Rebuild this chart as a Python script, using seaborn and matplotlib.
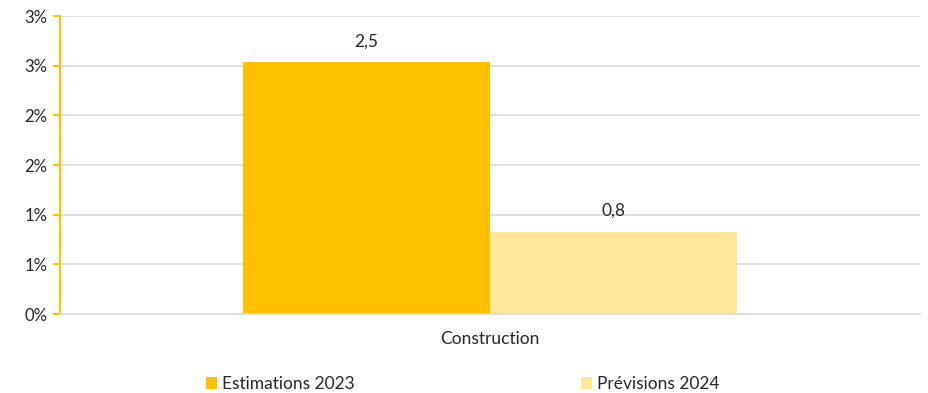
import matplotlib
matplotlib.use("Agg")
import matplotlib.pyplot as plt
from matplotlib.patches import Patch
import seaborn as sns
import pandas as pd

categories = ["Construction"]
series = ["Estimations 2023", "Prévisions 2024"]
values_2023 = [2.54]
values_2024 = [0.83]
colors = ["#FFC000", "#FFE699"]
ytick_values = [0, 0.5, 1, 1.5, 2, 2.5, 3]
ytick_labels = ["0%", "1%", "1%", "2%", "2%", "3%", "3%"]

df = pd.DataFrame({
    "categorie": categories * 2,
    "serie": [series[0]] * len(categories) + [series[1]] * len(categories),
    "valeur": values_2023 + values_2024,
})

sns.set_style("white")
plt.rcParams["font.family"] = ["Lato", "DejaVu Sans"]
text_color = "#262626"

fig, ax = plt.subplots(figsize=(9.29, 3.93), dpi=100)
fig.subplots_adjust(left=0.0646, right=0.990, top=0.959, bottom=0.201)

sns.barplot(data=df, x="categorie", y="valeur", hue="serie", palette=colors,
            width=0.575, saturation=1, linewidth=0, errorbar=None, ax=ax,
            legend=False)

for container in ax.containers:
    labels = [f"{bar.get_height():.1f}".replace(".", ",") for bar in container]
    ax.bar_label(container, labels=labels, padding=9, fontsize=12.5, color=text_color)

ax.set_xlim(-0.5, 0.5)
ax.set_ylim(0, 3)
ax.set_yticks(ytick_values)
ax.set_yticklabels(ytick_labels)
ax.set_xlabel("")
ax.set_ylabel("")
ax.yaxis.grid(True, color="#D9D9D9", linewidth=1.2)
ax.set_axisbelow(True)

for side in ["top", "right"]:
    ax.spines[side].set_visible(False)
ax.spines["bottom"].set_color("#D9D9D9")
ax.spines["bottom"].set_linewidth(1.2)
ax.spines["left"].set_color("#FFC000")
ax.spines["left"].set_linewidth(1.5)

ax.tick_params(axis="y", left=True, length=5, width=1.5, color="#FFC000",
               labelsize=12, labelcolor=text_color, pad=4)
ax.tick_params(axis="x", bottom=False, labelsize=12.5, labelcolor=text_color, pad=9)

handles = [Patch(facecolor=c, edgecolor="none", label=s) for c, s in zip(colors, series)]
fig.legend(handles=handles, loc="lower center", bbox_to_anchor=(0.498, -0.038), ncol=2,
           frameon=False, fontsize=12.5, handlelength=0.65, handleheight=0.65,
           handletextpad=0.3, columnspacing=13, labelcolor=text_color)

fig.savefig("out.png", dpi=100)
